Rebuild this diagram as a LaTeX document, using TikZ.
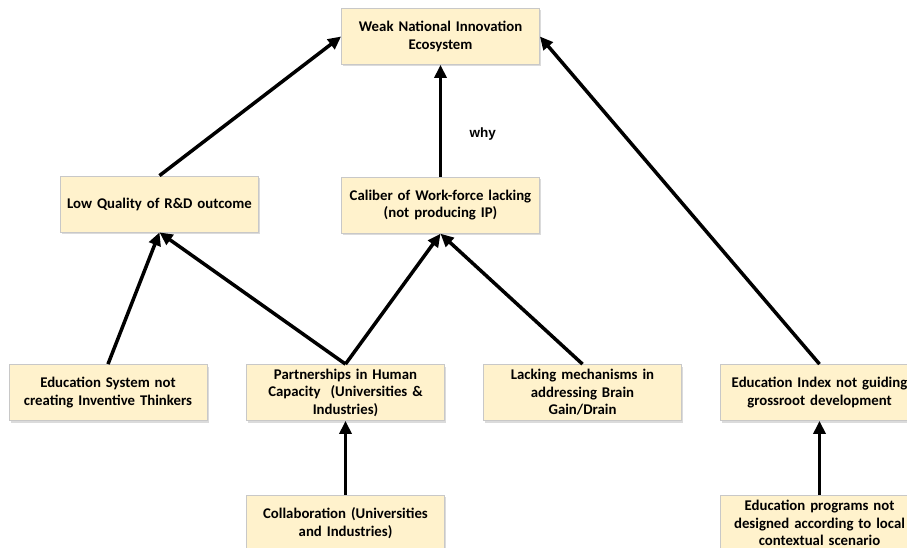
\documentclass[tikz,border=0pt]{standalone}
\usepackage{fontspec}
\setmainfont{Carlito}
\newfontfamily\whyfont{Liberation Sans}
\usetikzlibrary{positioning}
\usetikzlibrary {arrows.meta}
\usetikzlibrary{shadows}
\definecolor{boxfill}{RGB}{255,242,204}
\definecolor{boxline}{RGB}{200,200,200}
\tikzset{causebox/.style={rectangle,draw=boxline,fill=boxfill,line width=0.8pt,
inner sep=2pt,minimum height=56pt, minimum width=197pt, text width=194pt, align=center,
font=\bfseries\fontsize{14.8}{17.5}\selectfont,
drop shadow={shadow xshift=1.5pt,shadow yshift=-2pt,fill=black!40,opacity=0.35}}}
\tikzset{causearrow/.style={line width=3.5pt,-{Triangle[length=13pt,width=12pt]}}}

\begin{document}
\begin{tikzpicture}[x=1pt,y=-1pt]
        \useasboundingbox (0,0) rectangle (907,548);

        \node[causebox] (weak) at (440.5, 36.5) {Weak National Innovation\\Ecosystem};
        \node[causebox] (caliber) [below=112pt of weak] {Caliber of Work-force lacking\\(not producing IP)};
        \node[causebox] (quality) at (159.5, 204) {Low Quality of R\&D outcome};

        \node[causebox] (edusys) at (108, 392.5) {Education System not\\creating Inventive Thinkers};
        \node[causebox] (partner) at (345.5, 392.5) {Partnerships in Human\\Capacity\ \ (Universities \&\\Industries)};
        \node[causebox] (brain) at (582.5, 392.5) {Lacking mechanisms in\\addressing Brain\\Gain/Drain};
        \node[causebox] (eduindex) at (819.5, 392.5) {Education Index not guiding\\grossroot development};

        \node[causebox] (collab) [below=74pt of partner] {Collaboration (Universities\\and Industries)};
        \node[causebox] (eduprog) [below=74pt of eduindex] {Education programs not\\designed according to local\\contextual scenario};

        \draw [causearrow] (quality.north) -- (weak.west);
        \draw [causearrow] (caliber.north) -- node[pos=0.38, right=24pt, font=\whyfont\bfseries\fontsize{13.5}{15}\selectfont] (why) {why} (weak.south);
        \draw [causearrow] (eduindex.north) -- (weak.east);

        \draw [causearrow] (edusys.north) -- (quality.south);
        \draw [causearrow] (partner.north) -- (quality.south);
        \draw [causearrow] (partner.north) -- (caliber.south);
        \draw [causearrow] (brain.north) -- (caliber.south);

        \draw [causearrow] (collab.north) -- (partner.south);
        \draw [causearrow] (eduprog.north) -- (eduindex.south);

    \end{tikzpicture}
\end{document}
